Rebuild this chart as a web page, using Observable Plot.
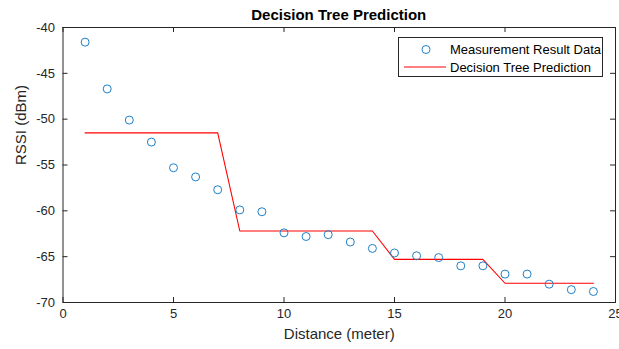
<!DOCTYPE html>
<html>
<head>
<meta charset="utf-8">
<script src="https://cdn.jsdelivr.net/npm/d3@7"></script>
<script src="https://cdn.jsdelivr.net/npm/@observablehq/plot@0.6"></script>
<style>
  body { margin: 0; background: #fff; font-family: "Liberation Sans", Arial, Helvetica, sans-serif; }
  #wrap { position: relative; width: 619px; height: 349px; overflow: hidden; background: #fff; }
  #title { height: 22px; width: 619px; position: relative; }
  #title span { position: absolute; left: 338.75px; top: 7px; transform: translate(-50%, 0); font-weight: bold; font-size: 15px; color: #000; white-space: nowrap; line-height: 15px; }
  #legend { position: absolute; left: 398px; top: 37px; width: 205px; height: 40px; border: 1px solid #262626; background: #fff; box-sizing: border-box; }
  #legend .item { position: absolute; left: 51px; font-size: 13px; color: #000; white-space: nowrap; line-height: 13px; }
  #legend svg { position: absolute; left: 0; top: 0; }
</style>
</head>
<body>
<div id="wrap">
  <div id="title"><span>Decision Tree Prediction</span></div>
  <div id="chart"></div>
  <div id="legend">
    <svg width="205" height="40">
      <circle cx="27" cy="11.5" r="4" fill="none" stroke="#1f7fc6" stroke-width="1"></circle>
      <line x1="5" x2="47" y1="29" y2="29" stroke="#ff0000" stroke-width="1"></line>
    </svg>
    <div class="item" style="top:5px">Measurement Result Data</div>
    <div class="item" style="top:23px">Decision Tree Prediction</div>
  </div>
</div>
<script>
// Measured data
const distance = [1, 2, 3, 4, 5, 6, 7, 8, 9, 10, 11, 12, 13, 14, 15, 16, 17, 18, 19, 20, 21, 22, 23, 24];
const rssi = [-41.6, -46.7, -50.1, -52.5, -55.3, -56.3, -57.7, -59.9, -60.1, -62.4, -62.8, -62.6,
              -63.4, -64.1, -64.6, -64.9, -65.1, -66.0, -66.0, -66.9, -66.9, -68.0, -68.6, -68.8];
// Decision tree prediction
const prediction = [-51.5, -51.5, -51.5, -51.5, -51.5, -51.5, -51.5, -62.2, -62.2, -62.2, -62.2, -62.2,
                    -62.2, -62.2, -65.3, -65.3, -65.3, -65.3, -65.3, -67.9, -67.9, -67.9, -67.9, -67.9];
// Axis ticks
const xTicks = [0, 5, 10, 15, 20, 25];
const yTicks = [-70, -65, -60, -55, -50, -45, -40];

const measured = distance.map((d, i) => ({x: d, y: rssi[i]}));
const predicted = distance.map((d, i) => ({x: d, y: prediction[i]}));

const W = 619, H = 327;
const mL = 62.5, mR = 4, mT = 5, mB = 47;
const fw = W - mL - mR, fh = H - mT - mB;
const tickLen = 5;
const axisColor = "#262626";
const fmt = d => String(d); // ASCII hyphen-minus, as in the reference

const chart = Plot.plot({
  width: W,
  height: H,
  marginLeft: mL,
  marginRight: mR,
  marginTop: mT,
  marginBottom: mB,
  style: {fontFamily: '"Liberation Sans", Arial, Helvetica, sans-serif', fontSize: "13px", color: axisColor, background: "#fff", overflow: "visible"},
  x: {domain: [0, 25]},
  y: {domain: [-70, -40]},
  marks: [
    Plot.axisX(xTicks, {tickSize: 0, tickPadding: 6, label: null, fontSize: 13, fill: axisColor, tickFormat: fmt}),
    Plot.axisY(yTicks, {tickSize: 0, tickPadding: 8, label: null, fontSize: 13, fill: axisColor, tickFormat: fmt}),
    Plot.tickX(xTicks, {x: d => d, insetTop: fh - tickLen, stroke: axisColor}),
    Plot.tickX(xTicks, {x: d => d, insetBottom: fh - tickLen, stroke: axisColor}),
    Plot.tickY(yTicks, {y: d => d, insetRight: fw - tickLen, stroke: axisColor}),
    Plot.tickY(yTicks, {y: d => d, insetLeft: fw - tickLen, stroke: axisColor}),
    Plot.line(predicted, {x: "x", y: "y", stroke: "#ff0000", strokeWidth: 1.1}),
    Plot.dot(measured, {x: "x", y: "y", r: 4, stroke: "#1f7fc6", fill: "none", strokeWidth: 1}),
    Plot.frame({stroke: axisColor}),
    Plot.text(["Distance (meter)"], {frameAnchor: "bottom", text: d => d, dy: 36, fontSize: 15, fill: axisColor}),
    Plot.text(["RSSI (dBm)"], {frameAnchor: "left", text: d => d, rotate: -90, dx: -41.5, fontSize: 15, fill: axisColor})
  ]
});
document.getElementById("chart").appendChild(chart);
</script>
</body>
</html>
